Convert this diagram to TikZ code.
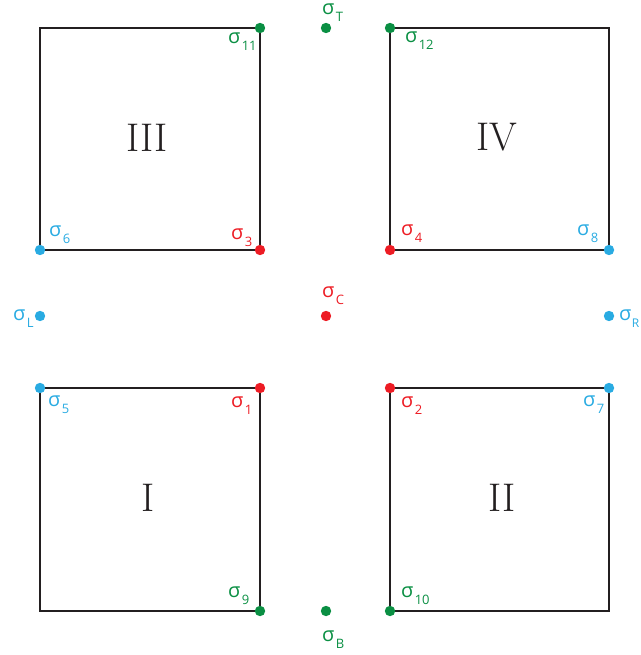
\documentclass[tikz,border=0pt]{standalone}
\usepackage{fontspec}
\newfontfamily\labfont{Open Sans}
\definecolor{sgreen}{HTML}{0A8F43}
\definecolor{sred}{HTML}{ED1C24}
\definecolor{sblue}{HTML}{29ABE2}
\definecolor{sline}{HTML}{231F20}
\newcommand{\sig}[1]{{\fontsize{20}{20}\selectfont σ}\kern1.5pt\raisebox{-7pt}{\fontsize{13}{13}\selectfont #1}}
\tikzset{
  quad/.style={draw=sline, line width=1.8pt},
  dotg/.style={fill=sgreen},
  dotr/.style={fill=sred},
  dotb/.style={fill=sblue},
  lab/.style={anchor=base west, inner sep=0pt, outer sep=0pt, font=\labfont},
  roman/.style={inner sep=0pt, font=\fontsize{40}{40}\selectfont, text=sline}
}
\begin{document}
\begin{tikzpicture}[x=1pt,y=-1pt]
\useasboundingbox (0,0) rectangle (640,655);
% squares
\draw[quad] (40,28) rectangle (260,250);
\draw[quad] (390,28) rectangle (609,250);
\draw[quad] (40,388) rectangle (260,611);
\draw[quad] (390,388) rectangle (609,611);
% numerals
\node[roman] (nIII) at (147,137.5) {III};
\node[roman] (nIV) at (497,137.5) {IV};
\node[roman] (nI) at (148,498) {I};
\node[roman] (nII) at (502,498) {II};
% points
\coordinate (s11) at (260,28);
\coordinate (sT) at (326,28);
\coordinate (s12) at (390,28);
\coordinate (s6) at (40,250);
\coordinate (s3) at (260,250);
\coordinate (s4) at (390,250);
\coordinate (s8) at (609,250);
\coordinate (sL) at (40,316);
\coordinate (sC) at (326,316);
\coordinate (sR) at (609,316);
\coordinate (s5) at (40,388);
\coordinate (s1) at (260,388);
\coordinate (s2) at (390,388);
\coordinate (s7) at (609,388);
\coordinate (s9) at (260,611);
\coordinate (sB) at (326,611);
\coordinate (s10) at (390,611);
\foreach \p in {s11,sT,s12,s9,sB,s10} \fill[dotg] (\p) circle (5.2pt);
\foreach \p in {s3,s4,sC,s1,s2} \fill[dotr] (\p) circle (5.2pt);
\foreach \p in {s6,s8,sL,sR,s5,s7} \fill[dotb] (\p) circle (5.2pt);
% labels
\node[lab, text=sgreen] (l11) at (228,44) {\sig{11}};
\node[lab, text=sgreen] (lT) at (322,15) {\sig{T}};
\node[lab, text=sgreen] (l12) at (405,43) {\sig{12}};
\node[lab, text=sblue] (l6) at (49,236) {\sig{6}};
\node[lab, text=sred] (l3) at (231,239) {\sig{3}};
\node[lab, text=sred] (l4) at (401,235) {\sig{4}};
\node[lab, text=sblue] (l8) at (577,235) {\sig{8}};
\node[lab, text=sblue] (lL) at (13,320) {\sig{L}};
\node[lab, text=sred] (lC) at (322,297) {\sig{C}};
\node[lab, text=sblue] (lR) at (619,320) {{\fontsize{20}{20}\selectfont σ}\kern0.5pt\raisebox{-7pt}{\fontsize{12}{12}\selectfont R}};
\node[lab, text=sblue] (l5) at (48,406) {\sig{5}};
\node[lab, text=sred] (l1) at (231,407) {\sig{1}};
\node[lab, text=sred] (l2) at (401,407) {\sig{2}};
\node[lab, text=sblue] (l7) at (583,406) {\sig{7}};
\node[lab, text=sgreen] (l9) at (228,597) {\sig{9}};
\node[lab, text=sgreen] (l10) at (401,597) {\sig{10}};
\node[lab, text=sgreen] (lB) at (322,641) {\sig{B}};
\end{tikzpicture}
\end{document}
